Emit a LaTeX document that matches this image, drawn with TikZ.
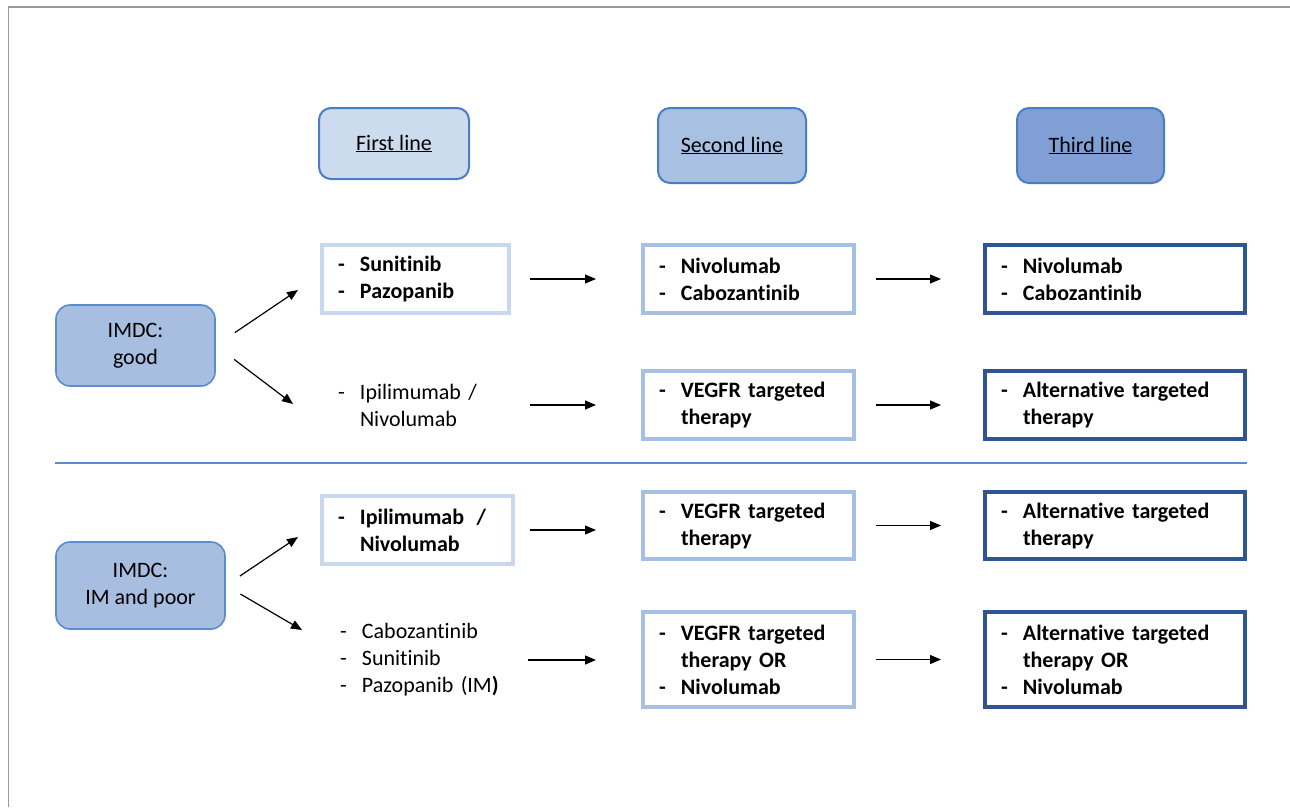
\documentclass[tikz,border=0pt]{standalone}
\usepackage{fontspec}
\setmainfont{Carlito}[Ligatures=NoCommon]
\usetikzlibrary{arrows.meta}
\definecolor{hdrA}{HTML}{CCDBEE}
\definecolor{hdrB}{HTML}{A8C0E1}
\definecolor{hdrC}{HTML}{809FD4}
\definecolor{hdrline}{HTML}{4A7DC5}
\definecolor{imfill}{HTML}{A7BEE0}
\definecolor{imline}{HTML}{5B8BD0}
\definecolor{colA}{HTML}{C8D8EE}
\definecolor{colB}{HTML}{A6C0E5}
\definecolor{colC}{HTML}{2F5597}
\definecolor{sepline}{HTML}{5B8BD0}
\newcommand\itm[1]{\makebox[22pt][l]{-}#1}
\newcommand\cnt[1]{\hspace*{22pt}#1}
\begin{document}
\begin{tikzpicture}[x=1pt,y=-1pt,
  every node/.style={font=\fontsize{22}{27}\selectfont, text=black},
  hdr/.style={draw=hdrline, line width=2pt, rounded corners=12pt, align=center, inner sep=0pt},
  imdc/.style={draw=imline, fill=imfill, line width=1.6pt, rounded corners=14pt, align=center, inner sep=0pt},
  itembox/.style={rectangle, line width=4pt, align=left, inner xsep=16pt, inner ysep=0pt},
  boxA/.style={itembox, draw=colA, font=\fontsize{22}{27}\selectfont\bfseries},
  boxB/.style={itembox, draw=colB, font=\fontsize{22}{27}\selectfont\bfseries},
  boxC/.style={itembox, draw=colC, font=\fontsize{22}{27}\selectfont\bfseries},
  plain/.style={itembox, draw=none},
  arr/.style={-{Triangle[length=11pt,width=9pt]}, line width=1.2pt, black}
]
\useasboundingbox (0,0) rectangle (1290,807);
% page frame
\draw[line width=2pt, black!40] (8,7) -- (1290,7);
\draw[line width=1pt, black!40] (8,7) -- (8,807);

% headers
\node[hdr, fill=hdrA, minimum width=150pt, minimum height=71pt] (h1) at (394,143.5) {\underline{First line}};
\node[hdr, fill=hdrB, minimum width=148pt, minimum height=75pt] (h2) at (732,145.5) {\underline{Second line}};
\node[hdr, fill=hdrC, minimum width=147pt, minimum height=75pt] (h3) at (1090.5,145.5) {\underline{Third line}};

% IMDC boxes
\node[imdc, minimum width=159pt, minimum height=81pt] (g) at (135.5,345.5) {IMDC:\\good};
\node[imdc, minimum width=169pt, minimum height=87pt] (p) at (140.5,585.5) {IMDC:\\IM and poor};

% first line
\node[boxA, text width=155pt, minimum height=68pt] (f1) at (415.5,279) {\itm{Sunitinib}\\\itm{Pazopanib}};
\node[plain, text width=155pt, minimum height=68pt] (f2) at (415.5,405) {\itm{Ipilimumab /}\\\cnt{Nivolumab}};
\node[boxA, text width=159pt, minimum height=68pt] (f3) at (417.5,530) {\itm{Ipilimumab\hspace{5pt} /}\\\cnt{Nivolumab}};
\node[plain, text width=185pt, minimum height=90pt, anchor=west] (f4) at (322,660) {\itm{Cabozantinib}\\\itm{Sunitinib}\\\itm{Pazopanib (IM\textbf{)}}};
\coordinate (f4e) at (509,660);

% second line
\node[boxB, text width=179pt, minimum height=68pt] (s1) at (748.5,279) {\itm{Nivolumab}\\\itm{Cabozantinib}};
\node[boxB, text width=179pt, minimum height=68pt] (s2) at (748.5,405) {\itm{VEGFR targeted}\\\cnt{therapy}};
\node[boxB, text width=179pt, minimum height=67pt] (s3) at (748.5,525.5) {\itm{VEGFR targeted}\\\cnt{therapy}};
\node[boxB, text width=179pt, minimum height=95pt] (s4) at (748.5,659.5) {\itm{VEGFR targeted}\\\cnt{therapy OR}\\\itm{Nivolumab}};

% third line
\node[boxC, text width=228pt, minimum height=68pt] (t1) at (1115,279) {\itm{Nivolumab}\\\itm{Cabozantinib}};
\node[boxC, text width=228pt, minimum height=68pt] (t2) at (1115,405) {\itm{Alternative targeted}\\\cnt{therapy}};
\node[boxC, text width=228pt, minimum height=67pt] (t3) at (1115,525.5) {\itm{Alternative targeted}\\\cnt{therapy}};
\node[boxC, text width=228pt, minimum height=95pt] (t4) at (1115,659.5) {\itm{Alternative targeted}\\\cnt{therapy OR}\\\itm{Nivolumab}};

% separator
\coordinate (sepL) at (55,463);
\coordinate (sepR) at (1247,463);
\draw[sepline, line width=1.2pt] (sepL) -- (sepR);

% diagonal arrows
\coordinate (a1) at (298,290);
\coordinate (a2) at (293,404);
\coordinate (a3) at (298,537);
\coordinate (a4) at (302,630);
\draw[arr, shorten <=23pt] (g.east) -- (a1);
\draw[arr, shorten <=23pt] (g.east) -- (a2);
\draw[arr, shorten <=17pt] (p.east) -- (a3);
\draw[arr, shorten <=17pt] (p.east) -- (a4);

% horizontal arrows
\draw[arr, shorten <=19pt, shorten >=45pt] (f1) -- (s1);
\draw[arr, shorten <=20pt, shorten >=42pt] (s1) -- (t1);
\draw[arr, shorten <=19pt, shorten >=45pt] (f2) -- (s2);
\draw[arr, shorten <=20pt, shorten >=42pt] (s2) -- (t2);
\draw[arr, shorten <=15pt, shorten >=45pt] (f3.east) -- (f3.east -| s3.west);
\draw[arr, shorten <=20pt, shorten >=42pt] (s3) -- (t3);
\draw[arr, shorten <=19pt, shorten >=45pt] (f4e) -- (f4e -| s4.west);
\draw[arr, shorten <=20pt, shorten >=42pt] (s4) -- (t4);
\end{tikzpicture}
\end{document}
